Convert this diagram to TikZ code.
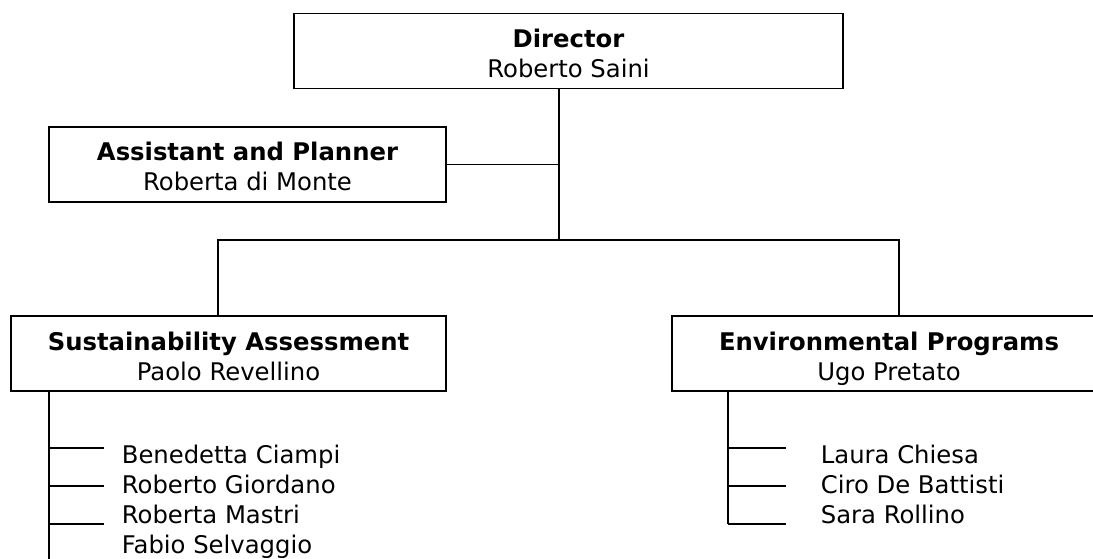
\documentclass[tikz,border=0pt]{standalone}
\usepackage{fontspec}
\setmainfont{DejaVu Sans}
\usetikzlibrary{positioning}

\begin{document}
\begin{tikzpicture}[
    x=1pt, y=-1pt,
    line width=1.7pt,
    every node/.style={
        font=\fontsize{24.3}{30}\selectfont
    },
    unit/.style={
        draw, rectangle,
        inner sep=0pt,
        text height=53pt, text depth=0pt,
        minimum height=75pt,
        align=center
    },
    member/.style={
        anchor=base west,
        inner sep=0pt
    }
]
\useasboundingbox (0,0) rectangle (1093,559);
\clip (0,0) rectangle (1093,559);

% boxes
\node[unit, minimum width=549pt] (director) at (568.5,51) {\textbf{Director}\\Roberto Saini};
\node[unit, minimum width=397pt] (assistant) at (247.5,164.5) {\textbf{Assistant and Planner}\\Roberta di Monte};
\node[unit, minimum width=435pt] (sustain) at (228.5,353.5) {\textbf{Sustainability Assessment}\\Paolo Revellino};
\node[unit, minimum width=434pt] (envprog) at (889,353.5) {\textbf{Environmental Programs}\\Ugo Pretato};

% staff
\node[member] (benedetta) at (121,463) {Benedetta Ciampi};
\node[member] (giordano) at (121,493) {Roberto Giordano};
\node[member] (mastri) at (121,523) {Roberta Mastri};
\node[member] (selvaggio) at (121,553) {Fabio Selvaggio};
\node[member] (chiesa) at (820,463) {Laura Chiesa};
\node[member] (battisti) at (820,493) {Ciro De Battisti};
\node[member] (rollino) at (820,523) {Sara Rollino};

% lines
\coordinate (hub) at (559,240);
\coordinate (ljoin) at (218,240);
\coordinate (rjoin) at (899,240);
\draw (director.south -| hub) -- (hub);
\draw (assistant.east) -- (assistant.east -| hub);
\draw (ljoin |- sustain.north) -- (ljoin) -- (rjoin) -- (rjoin |- envprog.north);

\coordinate (ltrunk) at (49,562);
\coordinate (rtrunk) at (728,524);
\draw (ltrunk |- sustain.south) -- (ltrunk);
\draw (rtrunk |- envprog.south) -- (rtrunk);
\foreach \y [count=\i] in {448,486,524} {
    \coordinate (lb\i) at (49,\y);
    \coordinate (rb\i) at (728,\y);
    \draw (lb\i) -- ++(55,0);
    \draw (rb\i) -- ++(58,0);
}
\end{tikzpicture}
\end{document}
